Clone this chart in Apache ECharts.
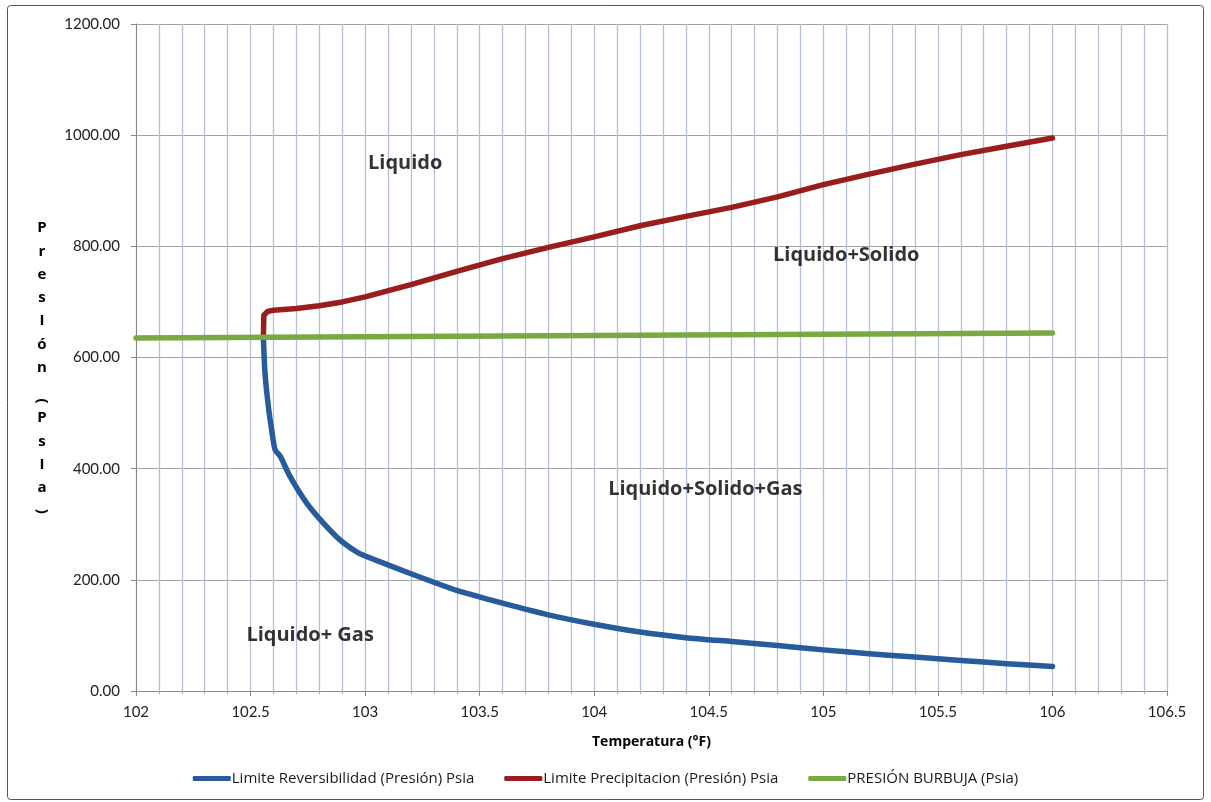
<!DOCTYPE html>
<html>
<head>
<meta charset="utf-8">
<title>Diagrama de fases</title>
<script src="https://cdn.jsdelivr.net/npm/echarts@6/dist/echarts.min.js"></script>
<style>
  html, body { margin: 0; padding: 0; background: #ffffff; }
  #chart { width: 1211px; height: 802px; }
</style>
</head>
<body>
<div id="chart"></div>
<script>
// Temperatura (°F) vs presión (psia) for each boundary curve
const reversibilidadT = [102.556, 102.563, 102.578, 102.592, 102.607, 102.63, 102.672, 102.745, 102.818, 102.89, 102.964, 103.0, 103.2, 103.4, 103.6, 103.8, 104.0, 104.2, 104.4, 104.6, 104.8, 105.0, 105.2, 105.4, 105.6, 105.8, 106.0];
const reversibilidadP = [636, 572, 511, 470, 434, 422, 386, 338, 302, 272, 250, 243, 211, 181, 158, 137, 120, 106, 96, 89, 82, 74, 67, 61, 55, 49, 44];

const precipitacionT = [102.556, 102.558, 102.575, 102.6, 102.7, 102.8, 102.9, 103.0, 103.2, 103.4, 103.6, 103.8, 104.0, 104.2, 104.4, 104.6, 104.8, 105.0, 105.2, 105.4, 105.6, 105.8, 106.0];
const precipitacionP = [636, 676, 683, 685, 688, 693, 700, 709, 731, 755, 778, 798, 817, 837, 854, 870, 889, 911, 930, 948, 965, 980, 995];

const burbujaT = [102.0, 106.0];
const burbujaP = [635, 644];

const seriesNames = [
  'Limite Reversibilidad (Presión) Psia',
  'Limite Precipitacion (Presión) Psia',
  'PRESIÓN BURBUJA (Psia)'
];

// Region labels placed in data coordinates
const regionNames = ['Liquido', 'Liquido+Solido', 'Liquido+Solido+Gas', 'Liquido+ Gas'];
const regionT = [103.175, 105.1, 104.485, 102.76];
const regionP = [950, 784, 362, 100];

const yAxisTitle = 'PresIón(PsIa)';

const zip = (xs, ys) => xs.map((x, i) => [x, ys[i]]);

const FONT = 'Lato, "Liberation Sans", sans-serif';
const FONT_WIDE = '"Open Sans", "Noto Sans", sans-serif';

// Stacked vertical axis title: one glyph per line, parentheses turned sideways
const titleGlyphs = [];
{
  let y = 228;
  for (const ch of yAxisTitle) {
    const paren = ch === '(' || ch === ')';
    if (ch === '(') y += 10;
    titleGlyphs.push({
      type: 'text',
      x: 42,
      y: y,
      rotation: paren ? -Math.PI / 2 : 0,
      style: {
        text: ch,
        font: 'bold 15px ' + FONT_WIDE,
        fill: '#000000',
        align: 'center',
        verticalAlign: 'middle'
      }
    });
    y += paren ? 17 : 23.3;
  }
}

const chart = echarts.init(document.getElementById('chart'));

const colors = ['#285b9c', '#9a1d1d', '#7aa843'];

chart.setOption({
  animation: false,
  backgroundColor: '#ffffff',
  textStyle: { fontFamily: FONT },
  grid: { left: 136, right: 44, top: 24, bottom: 111, containLabel: false },
  legend: {
    data: seriesNames,
    left: 'center',
    top: 766,
    itemGap: 30,
    itemWidth: 38,
    itemHeight: 5,
    icon: 'roundRect',
    textStyle: { fontSize: 15, color: '#1a1a1a', fontFamily: FONT_WIDE, padding: [0, 0, 0, -4] }
  },
  xAxis: {
    type: 'value',
    min: 102,
    max: 106.5,
    interval: 0.5,
    name: 'Temperatura (°F)',
    nameLocation: 'middle',
    nameGap: 44,
    nameTextStyle: { fontWeight: 'bold', fontSize: 14, color: '#000000', fontFamily: FONT_WIDE },
    axisLine: { show: true, lineStyle: { color: '#8a8a8a', width: 1 } },
    axisTick: { show: true, length: 5, lineStyle: { color: '#8a8a8a' } },
    minorTick: { show: true, splitNumber: 5, length: 3, lineStyle: { color: '#a8a8a8' } },
    axisLabel: { fontSize: 15, color: '#222222', margin: 14 },
    splitLine: { show: true, lineStyle: { color: '#b3c0d8', width: 1.3 } },
    minorSplitLine: { show: true, lineStyle: { color: '#b3c0d8', width: 1.3 } }
  },
  yAxis: {
    type: 'value',
    min: 0,
    max: 1200,
    interval: 200,
    axisLine: { show: true, lineStyle: { color: '#8a8a8a', width: 1 } },
    axisTick: { show: true, length: 5, lineStyle: { color: '#8a8a8a' } },
    axisLabel: {
      fontSize: 15,
      color: '#222222',
      margin: 16,
      formatter: v => v.toFixed(2)
    },
    splitLine: { show: true, lineStyle: { color: '#a3a3a3', width: 1.2 } }
  },
  graphic: [
    {
      type: 'rect',
      shape: { x: 7.5, y: 5.5, width: 1196, height: 794, r: 3 },
      style: { fill: 'none', stroke: '#555555', lineWidth: 1 },
      silent: true,
      z: -1
    },
    ...titleGlyphs
  ],
  series: [
    {
      name: seriesNames[0],
      type: 'line',
      data: zip(reversibilidadT, reversibilidadP),
      showSymbol: false,
      smooth: 0.2,
      color: colors[0],
      lineStyle: { width: 5.5, color: colors[0], cap: 'round', join: 'round' },
      z: 3
    },
    {
      name: seriesNames[1],
      type: 'line',
      data: zip(precipitacionT, precipitacionP),
      showSymbol: false,
      smooth: false,
      color: colors[1],
      lineStyle: { width: 5.5, color: colors[1], cap: 'round', join: 'round' },
      z: 3
    },
    {
      name: seriesNames[2],
      type: 'line',
      data: zip(burbujaT, burbujaP),
      showSymbol: false,
      color: colors[2],
      lineStyle: { width: 5.5, color: colors[2], cap: 'round' },
      z: 4
    },
    {
      name: 'regiones',
      type: 'scatter',
      data: regionNames.map((n, i) => ({ name: n, value: [regionT[i], regionP[i]] })),
      symbolSize: 0,
      silent: true,
      label: {
        show: true,
        position: 'inside',
        formatter: p => p.name,
        fontSize: 20,
        fontWeight: 'bold',
        color: '#000000',
        fontFamily: FONT_WIDE
      },
      z: 5
    }
  ]
});
</script>
</body>
</html>
